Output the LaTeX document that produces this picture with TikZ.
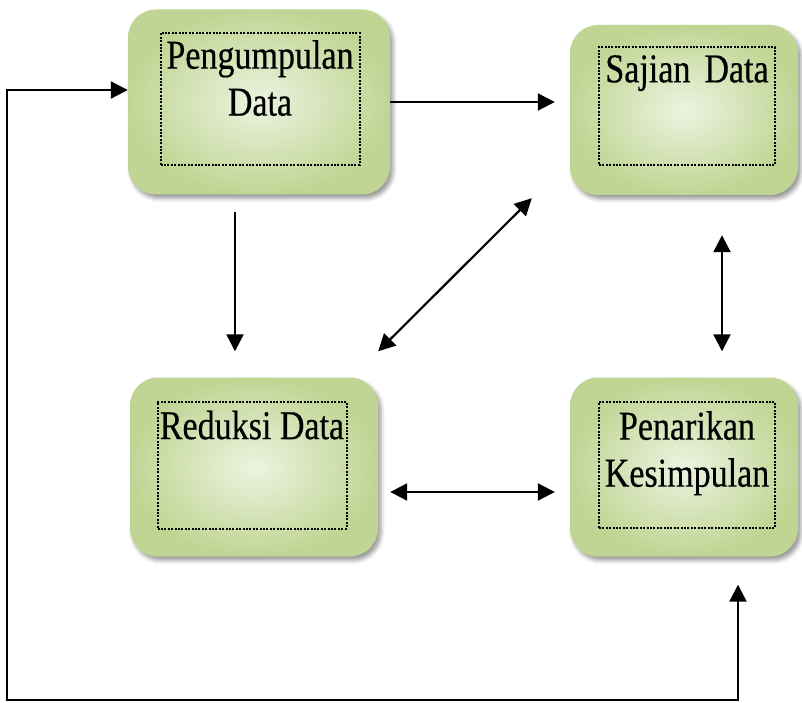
\documentclass[tikz,border=0pt]{standalone}
\usepackage{fontspec}
\setmainfont{Liberation Serif}
\newfontfamily\stagefont[FakeStretch=0.83, FakeBold=0.4]{Liberation Serif}
\usetikzlibrary{arrows.meta, positioning, shadows.blur}
\definecolor{boxedge}{RGB}{192,213,148}
\definecolor{boxmid}{RGB}{236,243,224}
\tikzset{
  stage/.style={rectangle, rounded corners=28pt, draw=none, shading=radial,
    inner color=boxmid, outer color=boxedge,
    blur shadow={shadow xshift=3pt, shadow yshift=-4pt,
      shadow blur radius=4pt, shadow opacity=40}},
  inbox/.style={rectangle, draw=black, dash pattern=on 2pt off 1.4pt,
    line width=2pt, inner sep=0pt},
  caption/.style={inner sep=0pt, align=center,
    font=\stagefont\fontsize{41}{47}\selectfont},
  arrow/.style={-{Triangle[length=17pt, width=17pt]}, line width=2.2pt},
  dblarrow/.style={{Triangle[length=17pt, width=17pt]}-{Triangle[length=17pt, width=17pt]},
    line width=2.2pt},
}

\begin{document}
\begin{tikzpicture}[x=1pt, y=-1pt]
  \useasboundingbox (0,0) rectangle (802,703);

  \node[stage, minimum width=262pt, minimum height=185pt] (peng)      at (259,102) {};
  \node[stage, minimum width=228pt, minimum height=170pt] (sajian)    at (684,110) {};
  \node[stage, minimum width=248pt, minimum height=179pt] (reduksi)   at (254,467) {};
  \node[stage, minimum width=228pt, minimum height=179pt] (penarikan) at (684,467) {};

  \node[inbox, minimum width=199pt, minimum height=132pt] (pengIn) at (260,99) {};
  \node[caption, below=8pt of pengIn.north] (pengTxt) {Pengumpulan\\Data};
  \node[inbox, minimum width=176pt, minimum height=118pt] (sajianIn) at (687,106) {};
  \node[caption, below=9pt of sajianIn.north] (sajianTxt) {Sajian\hspace{14pt}Data};
  \node[inbox, minimum width=189pt, minimum height=127pt] (reduksiIn) at (252,465) {};
  \node[caption, below=10pt of reduksiIn.north] (reduksiTxt) {Reduksi Data};
  \node[inbox, minimum width=176pt, minimum height=126pt] (penarikanIn) at (687,465) {};
  \node[caption, below=10pt of penarikanIn.north] (penarikanTxt) {Penarikan\\Kesimpulan};

  \coordinate (pengDown) at ([xshift=-24pt]peng.south);
  \coordinate (sajDown)  at ([xshift=38pt]sajian.south);
  \coordinate (redRight) at ([yshift=-25pt]reduksi.east);
  \coordinate (penUp)    at ([xshift=54pt]penarikan.south);
  \coordinate (pengIn1)  at ([yshift=12pt]peng.west);
  \coordinate (loopCorner) at (7,700);

  \draw[arrow, shorten >=15pt] (peng.east) -- (peng.east -| sajian.west);
  \draw[arrow, shorten <=17pt, shorten >=26pt] (pengDown) -- (pengDown |- reduksi.north);
  \draw[dblarrow] ([yshift=26pt]reduksi.north east) -- ([xshift=-38pt, yshift=-3pt]sajian.south west);
  \draw[dblarrow, shorten <=40pt, shorten >=26pt] (sajDown) -- (sajDown |- penarikan.north);
  \draw[dblarrow, shorten <=12pt, shorten >=15pt] (redRight) -- (redRight -| penarikan.west);
  \draw[dblarrow, shorten <=28pt] (penUp) |- (loopCorner) |- (pengIn1);
\end{tikzpicture}
\end{document}
